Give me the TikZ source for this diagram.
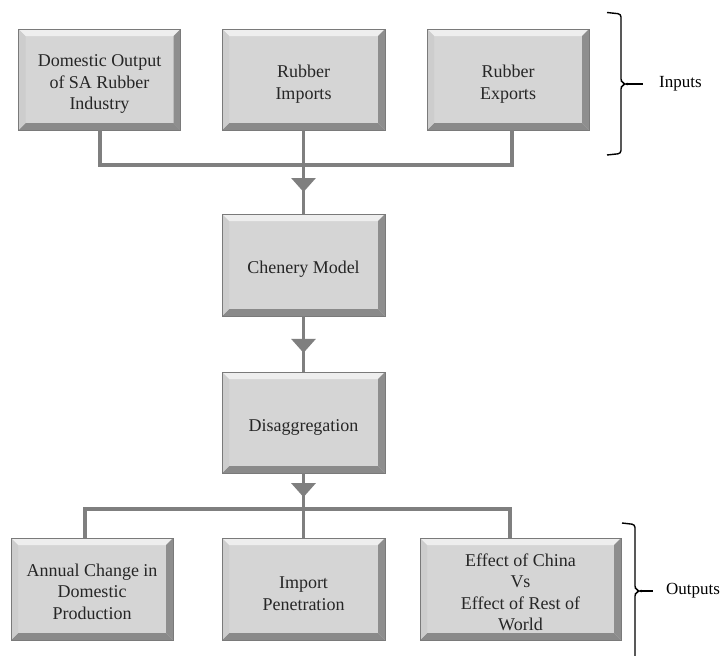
\documentclass[tikz,border=0pt]{standalone}
\usepackage{fontspec}
\setmainfont{Liberation Serif}
\usetikzlibrary{arrows.meta,decorations.markings}
\definecolor{boxc}{HTML}{D5D5D5}
\definecolor{bevtop}{HTML}{EEEEEE}
\definecolor{bevleft}{HTML}{CDCDCD}
\definecolor{bevright}{HTML}{8E8E8E}
\definecolor{bevbot}{HTML}{8A8A8A}
\definecolor{edgec}{HTML}{7A7A7A}
\definecolor{connc}{HTML}{7F7F7F}
\definecolor{txtc}{HTML}{262626}
\newcommand{\bv}{7pt}
\tikzset{
  bevelbox/.style={draw=edgec, line width=0.6pt, fill=boxc, inner sep=0pt,
    minimum width=162pt, minimum height=101pt,
    path picture={
      \fill[bevtop] (path picture bounding box.north west) -- (path picture bounding box.north east)
        -- ([shift={(-\bv,-\bv)}]path picture bounding box.north east)
        -- ([shift={(\bv,-\bv)}]path picture bounding box.north west) -- cycle;
      \fill[bevbot] (path picture bounding box.south west) -- (path picture bounding box.south east)
        -- ([shift={(-\bv,\bv)}]path picture bounding box.south east)
        -- ([shift={(\bv,\bv)}]path picture bounding box.south west) -- cycle;
      \fill[bevleft] (path picture bounding box.north west)
        -- ([shift={(\bv,-\bv)}]path picture bounding box.north west)
        -- ([shift={(\bv,\bv)}]path picture bounding box.south west)
        -- (path picture bounding box.south west) -- cycle;
      \fill[bevright] (path picture bounding box.north east)
        -- ([shift={(-\bv,-\bv)}]path picture bounding box.north east)
        -- ([shift={(-\bv,\bv)}]path picture bounding box.south east)
        -- (path picture bounding box.south east) -- cycle;
    }},
  boxtext/.style={align=center, inner sep=0pt, text=txtc, yshift=-4.5pt,
    font=\fontsize{18}{21.5}\selectfont},
  conn/.style={draw=connc, line width=3.2pt},
  arrowat/.style={postaction={decorate}, decoration={markings,
    mark=at position #1 with {\arrow[connc]{Triangle[width=24pt,length=14pt]}}}},
  bracepath/.style={draw=black, line width=1.4pt, rounded corners=3pt},
  bracelabel/.style={anchor=west, font=\fontsize{17}{20}\selectfont, text=black, inner sep=0pt}
}
\begin{document}
\begin{tikzpicture}[x=1pt,y=-1pt]
\useasboundingbox[fill=white] (0,0) rectangle (723,656);

% input boxes
\node[bevelbox] (i1) at (99.5,79.5) {};
\node[boxtext] (i1t) at (i1.center) {Domestic Output\\of SA Rubber\\Industry};
\node[bevelbox, minimum width=163pt] (i2) at (303.5,79.5) {};
\node[boxtext] (i2t) at (i2.center) {Rubber\\Imports};
\node[bevelbox] (i3) at (508,79.5) {};
\node[boxtext] (i3t) at (i3.center) {Rubber\\Exports};

% middle
\node[bevelbox, minimum width=163pt, minimum height=102pt] (chen) at (303.5,265) {};
\node[boxtext] (chent) at (chen.center) {Chenery Model};
\node[bevelbox, minimum width=163pt] (dis) at (303.5,422.5) {};
\node[boxtext] (dist) at (dis.center) {Disaggregation};

% output boxes
\node[bevelbox, minimum height=102pt] (o1) at (92,589) {};
\node[boxtext, yshift=2pt] (o1t) at (o1.center) {Annual Change in\\Domestic\\Production};
\node[bevelbox, minimum width=163pt, minimum height=102pt] (o2) at (303.5,589) {};
\node[boxtext] (o2t) at (o2.center) {Import\\Penetration};
\node[bevelbox, minimum width=201pt, minimum height=102pt] (o3) at (520.5,589) {};
\node[boxtext, yshift=1pt] (o3t) at (o3.center) {Effect of China\\Vs\\Effect of Rest of\\World};

% connectors top
\coordinate (jtop) at (303.5,165);
\coordinate (t1) at ([xshift=0.5pt]i1.south);
\coordinate (t3) at ([xshift=4pt]i3.south);
\draw[conn] (t1) -- (t1 |- jtop) -- (t3 |- jtop) -- (t3);
\draw[conn, arrowat=0.74] (i2.south) -- (chen.north);

% middle connector
\draw[conn, arrowat=0.66] (chen.south) -- (dis.north);

% bottom connectors
\coordinate (jbot) at (303.5,509);
\coordinate (b1) at ([xshift=-7pt]o1.north);
\coordinate (b3) at ([xshift=-10.5pt]o3.north);
\draw[conn] (b1) -- (b1 |- jbot) -- (b3 |- jbot) -- (b3);
\draw[conn, arrowat=0.37] (dis.south) -- (o2.north);

% inputs brace
\coordinate (itip) at (626,84);
\draw[bracepath] (607,12.5) -- (621,14) -- (621,82) -- (itip) -- (621,86) -- (621,153.5) -- (607,155);
\coordinate (iend) at (643,84);
\draw[draw=black, line width=1.4pt] (itip) -- (iend);
\node[bracelabel] (inl) at (659,84) {Inputs};

% outputs brace
\coordinate (otip) at (640,591);
\draw[bracepath] (622,523) -- (635,524.5) -- (635,589) -- (otip) -- (635,593) -- (635,665);
\coordinate (oend) at (653,591);
\draw[draw=black, line width=1.4pt] (otip) -- (oend);
\node[bracelabel] (outl) at (666,591) {Outputs};
\end{tikzpicture}
\end{document}
